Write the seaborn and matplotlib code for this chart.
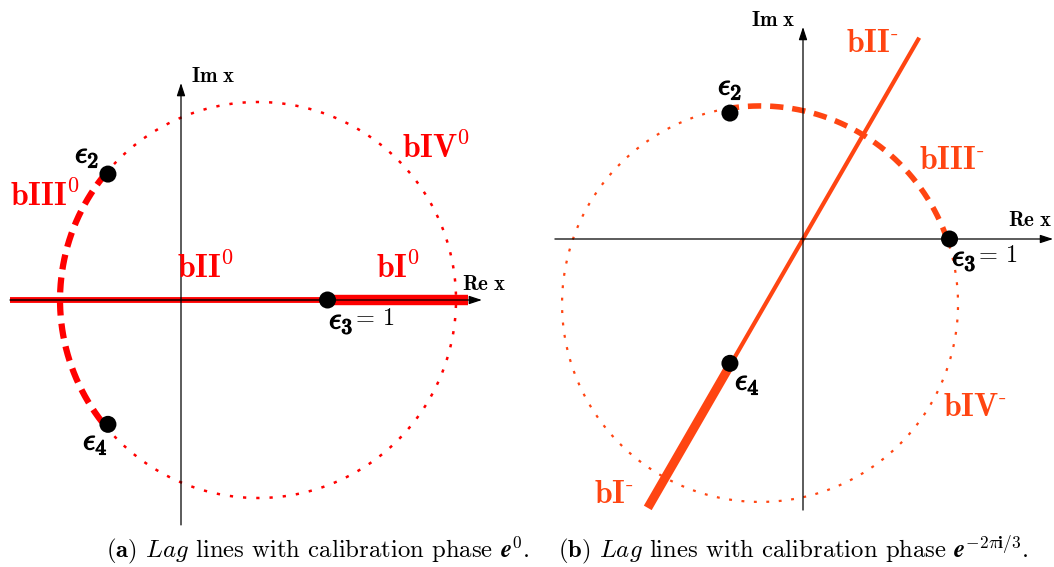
import numpy as np
import pandas as pd
import matplotlib
matplotlib.use("Agg")
import matplotlib.pyplot as plt
import matplotlib.patheffects as pe
import seaborn as sns

# ---------------- data (diagram coordinates, unit = circle radius) ----------------
root_names = ["e2", "e3", "e4"]
root_re = [-0.369, 0.740, -0.369]
root_im = [0.636, 0.0, -0.628]

circle_a_center = [0.389, 0.0]
circle_b_center = [-0.217, -0.328]
circle_radius = 1.0

lag_angle_b_deg = 60.0
lag_b_extent = [-1.568, 1.174]      # along the line, bottom to top

band_a_extent = [-0.864, 1.449]     # red band on the real axis (panel a)

axis_a_re = [-0.864, 1.520]
axis_a_im = [-1.136, 1.096]
axis_b_re = [-1.253, 1.263]
axis_b_im = [-1.369, 1.071]

branch_labels_a = [r"$\mathbf{bI}^{\mathbf{0}}$", r"$\mathbf{bII}^{\mathbf{0}}$",
                   r"$\mathbf{bIII}^{\mathbf{0}}$", r"$\mathbf{bIV}^{\mathbf{0}}$"]
branch_labels_b = [r"$\mathbf{bI}^{\text{-}}$", r"$\mathbf{bII}^{\text{-}}$",
                   r"$\mathbf{bIII}^{\text{-}}$", r"$\mathbf{bIV}^{\text{-}}$"]
root_labels = [r"$\epsilon_{\mathbf{2}}$", r"$\epsilon_{\mathbf{3}}$", r"$\epsilon_{\mathbf{4}}$"]
captions = [r"$\mathbf{(a)}$ $\mathit{Lag}$ lines with calibration phase $\mathbfit{e}^{\mathbf{0}}$.",
            r"$\mathbf{(b)}$ $\mathit{Lag}$ lines with calibration phase $\mathbfit{e}^{\mathbf{-2\pi i/3}}$."]

# ---------------- style ----------------
sns.set_style("white")
plt.rcParams["mathtext.fontset"] = "cm"
plt.rcParams["font.family"] = ["cmr10", "DejaVu Serif"]
plt.rcParams["axes.unicode_minus"] = False

RED_A = "#ff0000"
RED_B = "#ff4512"
W, H = 1054, 567
U = 198.0  # pixels per unit

fig = plt.figure(figsize=(W / 100, H / 100), dpi=100)

def make_axes(ox, oy):
    ax = fig.add_axes([0, 0, 1, 1])
    ax.set_xlim(-ox / U, (W - ox) / U)
    ax.set_ylim((oy - H) / U, oy / U)
    ax.axis("off")
    ax.patch.set_alpha(0)
    return ax

ax_a = make_axes(181, 300)
ax_b = make_axes(803, 239)

def arc(center, a0, a1, n=300):
    t = np.radians(np.linspace(a0, a1, n))
    return pd.DataFrame({"x": center[0] + circle_radius * np.cos(t),
                         "y": center[1] + circle_radius * np.sin(t)})

def root_angle(center, i):
    return np.degrees(np.arctan2(root_im[i] - center[1], root_re[i] - center[0]))

def line(ax, df, color, lw, ls="-", z=2, cap="butt"):
    sns.lineplot(data=df, x="x", y="y", sort=False, estimator=None, ax=ax,
                 color=color, linewidth=lw, linestyle=ls, zorder=z,
                 solid_capstyle=cap, dash_capstyle="butt", legend=False)

def axis_arrows(ax, re_lim, im_lim):
    ap = dict(arrowstyle="-|>,head_length=0.55,head_width=0.18", color="black",
              lw=0.9, shrinkA=0, shrinkB=0, mutation_scale=14)
    ax.annotate("", xy=(re_lim[1], 0), xytext=(re_lim[0], 0), arrowprops=ap, zorder=5)
    ax.annotate("", xy=(0, im_lim[1]), xytext=(0, im_lim[0]), arrowprops=ap, zorder=5)

# ---------------- panel (a) ----------------
a2 = root_angle(circle_a_center, 0)
a4 = root_angle(circle_a_center, 2) + 360
line(ax_a, arc(circle_a_center, a2, a4), RED_A, 4.5, (0, (2.4, 1.3)))
line(ax_a, arc(circle_a_center, a4 - 360, a2), RED_A, 1.8, (0, (1.3, 4.0)))

band_thin = pd.DataFrame({"x": [band_a_extent[0], root_re[1]], "y": [0, 0]})
band_thick = pd.DataFrame({"x": [root_re[1], band_a_extent[1]], "y": [0, 0]})
line(ax_a, band_thin, RED_A, 4.2, z=3)
line(ax_a, band_thin, "#b00000", 1.5, z=3.5)
line(ax_a, band_thick, RED_A, 7.5, z=3)
axis_arrows(ax_a, axis_a_re, axis_a_im)

# ---------------- panel (b) ----------------
b2 = root_angle(circle_b_center, 0)
b3 = root_angle(circle_b_center, 1)
line(ax_b, arc(circle_b_center, b3, b2), RED_B, 4.0, (0, (2.4, 1.6)))
line(ax_b, arc(circle_b_center, b2, b3 + 360), RED_B, 1.6, (0, (1.3, 4.3)))

ang = np.radians(lag_angle_b_deg)
t4 = root_re[2] * np.cos(ang) + root_im[2] * np.sin(ang)
lag_thick = pd.DataFrame({"x": np.array([lag_b_extent[0], t4]) * np.cos(ang),
                          "y": np.array([lag_b_extent[0], t4]) * np.sin(ang)})
lag_thin = pd.DataFrame({"x": np.array([t4, lag_b_extent[1]]) * np.cos(ang),
                         "y": np.array([t4, lag_b_extent[1]]) * np.sin(ang)})
line(ax_b, lag_thick, RED_B, 6.5, z=3)
line(ax_b, lag_thin, RED_B, 3.0, z=3)
axis_arrows(ax_b, axis_b_re, axis_b_im)

# roots
roots = pd.DataFrame({"re": root_re, "im": root_im, "name": root_names})
for ax in (ax_a, ax_b):
    sns.scatterplot(data=roots, x="re", y="im", ax=ax, color="black", s=150,
                    edgecolor="none", zorder=10, legend=False)
    ax.set_xlabel("")
    ax.set_ylabel("")
    ax.axis("off")

# ---------------- text (figure pixel positions) ----------------
def ftext(px, py, s, **kw):
    fig.text(px / W, 1 - py / H, s, **kw)

bold_eps = [pe.withStroke(linewidth=0.9, foreground="black")]
lab_kw = dict(fontsize=23, ha="center", va="center")
for s, (px, py) in zip(branch_labels_a, [(398, 268), (205, 268), (45, 196), (436, 148)]):
    ftext(px, py, s, color=RED_A, **lab_kw)
for s, (px, py) in zip(branch_labels_b, [(614, 495), (872, 44), (952, 161), (975, 408)]):
    ftext(px, py, s, color=RED_B, **lab_kw)

ax_kw = dict(fontsize=15, ha="center", va="center", color="black")
ftext(213, 76, r"$\mathbf{Im\ x}$", **ax_kw)
ftext(484, 284, r"$\mathbf{Re\ x}$", **ax_kw)
ftext(773, 20, r"$\mathbf{Im\ x}$", **ax_kw)
ftext(1030, 221, r"$\mathbf{Re\ x}$", **ax_kw)

eps_kw = dict(fontsize=22, ha="left", va="center", color="black", path_effects=bold_eps)
eq_kw = dict(fontsize=17.5, ha="left", va="center", color="black")
# panel a
ftext(75, 156, root_labels[0], **eps_kw)
ftext(83, 443, root_labels[2], **eps_kw)
ftext(329, 322, root_labels[1], **eps_kw)
ftext(356, 319, "= 1", **eq_kw)
# panel b
ftext(718, 88, root_labels[0], **eps_kw)
ftext(735, 383, root_labels[2], **eps_kw)
ftext(952, 259, root_labels[1], **eps_kw)
ftext(979, 256, "= 1", **eq_kw)

cap_kw = dict(fontsize=17.8, ha="left", va="center", color="black")
ftext(106, 550, captions[0], **cap_kw)
ftext(558, 550, captions[1], **cap_kw)

fig.savefig("out.png", dpi=100)
